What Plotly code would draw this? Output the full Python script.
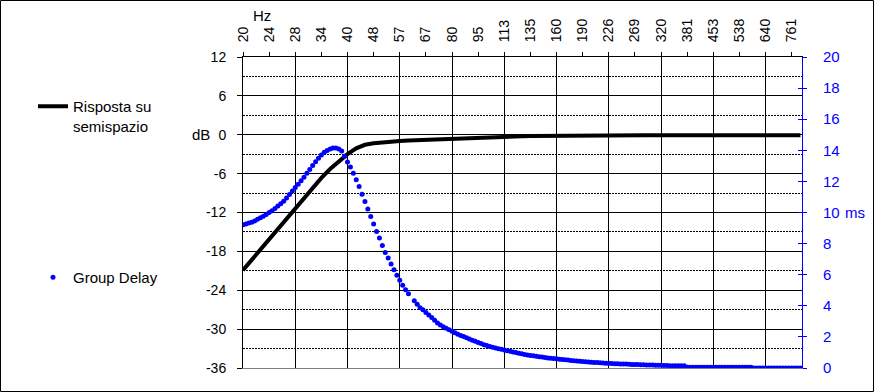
import math
import plotly.graph_objects as go

# ---- data ----
tick_labels = ["20", "24", "28", "34", "40", "48", "57", "67", "80", "95", "113",
               "135", "160", "190", "226", "269", "320", "381", "453", "538", "640", "761"]
grid_labels = ["20", "28", "40", "57", "80", "113", "160", "226", "320", "453", "640"]
db_ticks = [-36, -30, -24, -18, -12, -6, 0, 6, 12]
db_tick_labels = ["-36", "-30", "-24", "-18", "-12", "-6", "0", "6", "12"]

# Group delay (ms), one value every 1/36 octave from 20 Hz (None = missing point)
group_delay_ms = [
    9.22, 9.26, 9.32, 9.38, 9.46, 9.56, 9.66, 9.76, 9.87, 10.00,
    10.12, 10.26, 10.41, 10.57, 10.73, 10.93, 11.15, 11.38, 11.60, 11.82,
    12.04, 12.27, 12.52, 12.77, 13.02, 13.27, 13.49, 13.70, 13.87, 13.99,
    14.08, 14.14, 14.15, 14.09, 13.95, 13.62, 13.24, 12.92, 12.53, 12.10,
    11.67, 11.18, 10.71, 10.22, 9.75, 9.26, 8.78, 8.36, 7.88, 7.43,
    7.08, 6.69, 6.32, 5.96, 5.64, 5.32, 5.04, 4.78, None, 4.32,
    4.10, 3.88, 3.74, 3.57, 3.41, 3.24, 3.07, 2.90, 2.77, 2.65,
    2.55, 2.46, 2.36, 2.26, 2.17, 2.09, 2.02, 1.95, 1.87, 1.79,
    1.72, 1.64, 1.57, 1.50, 1.44, 1.39, 1.34, 1.29, 1.24, 1.20,
    1.16, 1.11, 1.07, 1.03, 0.99, 0.95, 0.91, 0.87, 0.84, 0.81,
    0.78, 0.75, 0.72, 0.70, 0.67, 0.65, 0.63, 0.61, 0.59, 0.57,
    0.55, 0.53, 0.51, 0.49, 0.47, 0.45, 0.43, 0.41, 0.40, 0.38,
    0.37, 0.36, 0.35, 0.33, 0.32, 0.31, 0.30, 0.29, 0.28, 0.27,
    0.26, 0.26, 0.25, 0.24, 0.23, 0.23, 0.22, 0.21, 0.21, 0.20,
    0.20, 0.19, 0.18, 0.18, 0.17, 0.16, 0.16, 0.15, 0.15, 0.15,
    0.15, 0.15, 0.15, 0.05, 0.05, 0.05, 0.05, 0.05, 0.05, 0.05,
    0.05, 0.05, 0.05, 0.05, 0.05, 0.05, 0.05, 0.05, 0.05, 0.05,
    0.05, 0.05, 0.05, 0.05, 0.05, 0.05, 0.00, 0.00, 0.00, 0.00,
    0.00, 0.00, 0.00, 0.00, 0.00, 0.00, 0.00, 0.00, 0.00, 0.00,
    0.00, 0.00, 0.00,
]

# Response (dB), one value every 1/12 octave from 20 Hz
response_db = [
    -20.9, -19.3, -17.7, -16.1, -14.5, -12.9, -11.3, -9.7, -8.1, -6.65,
    -5.3, -4.1, -3.0, -2.1, -1.55, -1.32, -1.15, -1.05, -0.96, -0.90,
    -0.84, -0.76, -0.69, -0.64, -0.60, -0.56, -0.52, -0.47, -0.42, -0.36,
    -0.30, -0.26, -0.23, -0.20, -0.18, -0.17, -0.16, -0.15, -0.14, -0.13,
    -0.12, -0.11, -0.10, -0.10, -0.09, -0.09, -0.08, -0.08, -0.08, -0.08,
    -0.08, -0.08, -0.08, -0.08, -0.08, -0.08, -0.08, -0.08, -0.08, -0.08,
    -0.08, -0.08, -0.08, -0.08, -0.08,
]

f0 = 20.0
gd_freq = [f0 * 2 ** (i / 36) for i in range(len(group_delay_ms))]
resp_freq = [f0 * 2 ** (j / 12) for j in range(len(response_db))]
tick_freq = [f0 * 2 ** (k / 4) for k in range(len(tick_labels))]
grid_freq = [tick_freq[tick_labels.index(g)] for g in grid_labels]

FONT = "Arial, Liberation Sans, sans-serif"
BLUE = "#0000FF"

W, H = 874, 392
ML, MR, MT, MB = 243, 72, 57, 24
PW, PH = W - ML - MR, H - MT - MB

xr = [math.log10(20), math.log10(814.8)]

fig = go.Figure()

fig.add_trace(go.Scatter(
    x=resp_freq, y=response_db, mode="lines", name="Risposta su<br>semispazio",
    line=dict(color="black", width=4), xaxis="x", yaxis="y", legend="legend",
))
fig.add_trace(go.Scatter(
    x=gd_freq, y=group_delay_ms, mode="markers", name="Group Delay",
    marker=dict(color=BLUE, size=5, line=dict(width=0)), xaxis="x", yaxis="y2",
    legend="legend2",
))
# helper empty traces so overlay axes render
fig.add_trace(go.Scatter(x=[], y=[], xaxis="x2", yaxis="y", showlegend=False))
fig.add_trace(go.Scatter(x=[], y=[], xaxis="x", yaxis="y3", showlegend=False))

fig.update_layout(
    width=W, height=H,
    margin=dict(l=ML, r=MR, t=MT, b=MB, pad=0, autoexpand=False),
    paper_bgcolor="white", plot_bgcolor="white",
    font=dict(family=FONT, size=14, color="black"),
    xaxis=dict(
        type="log", range=xr, side="top", anchor="y",
        tickmode="array", tickvals=tick_freq, ticktext=tick_labels,
        tickangle=-90, ticks="outside", ticklen=4, tickcolor="black", tickwidth=1,
        showline=True, linecolor="black", linewidth=1, showgrid=False,
        zeroline=False, tickfont=dict(size=14, color="black"),
        ticklabelstandoff=7, automargin=False,
    ),
    xaxis2=dict(
        type="log", range=xr, side="bottom", anchor="y", overlaying="x",
        tickmode="array", tickvals=grid_freq, showticklabels=False, ticks="",
        showgrid=True, gridcolor="black", gridwidth=1,
        showline=True, linecolor="#808080", linewidth=1, zeroline=False,
        automargin=False,
    ),
    yaxis=dict(
        range=[-36, 12], tickmode="array", tickvals=db_ticks, ticktext=db_tick_labels,
        ticks="outside", ticklen=5, tickcolor="black",
        showline=True, linecolor="black", linewidth=1,
        showgrid=True, gridcolor="black", gridwidth=1, zeroline=False,
        minor=dict(tickmode="linear", tick0=0, dtick=3, showgrid=True,
                   gridcolor="black", gridwidth=1, griddash="2px,1px", ticks=""),
        tickfont=dict(size=14, color="black"), ticklabelstandoff=8,
        automargin=False,
    ),
    yaxis2=dict(
        range=[0, 20], overlaying="y", side="right", anchor="x",
        tickmode="linear", tick0=0, dtick=2, ticks="outside", ticklen=4,
        tickcolor=BLUE, showline=True, linecolor=BLUE, linewidth=1,
        showgrid=False, zeroline=False,
        tickfont=dict(size=15, color=BLUE), ticklabelstandoff=13,
        automargin=False,
    ),
    yaxis3=dict(
        range=[0, 20], overlaying="y", side="right", anchor="x",
        tickmode="linear", tick0=0, dtick=2, ticks="inside", ticklen=4,
        tickcolor=BLUE, showticklabels=False, showline=False,
        showgrid=False, zeroline=False, automargin=False,
    ),
    legend=dict(
        x=(33 - ML) / PW, y=(H - MB - 90) / PH, xanchor="left", yanchor="top",
        bgcolor="rgba(0,0,0,0)", borderwidth=0, valign="top",
        font=dict(size=15, color="black"), itemwidth=30,
    ),
    legend2=dict(
        x=(33 - ML) / PW, y=(H - MB - 261) / PH, xanchor="left", yanchor="top",
        bgcolor="rgba(0,0,0,0)", borderwidth=0,
        font=dict(size=15, color="black"), itemwidth=30,
    ),
    showlegend=True,
)

fig.add_annotation(text="dB", xref="paper", yref="y", x=(212 - ML) / PW, y=0,
                   xanchor="right", yanchor="middle", showarrow=False,
                   font=dict(size=15, color="black"))
fig.add_annotation(text="ms", xref="paper", yref="y2", x=(843 - ML) / PW, y=10,
                   xanchor="left", yanchor="middle", showarrow=False,
                   font=dict(size=15, color=BLUE))
fig.add_annotation(text="Hz", xref="paper", yref="paper", x=(251 - ML) / PW,
                   y=(H - MB - 15) / PH, xanchor="left", yanchor="middle",
                   showarrow=False, font=dict(size=15, color="black"))

# outer frame
fig.add_shape(type="rect", xref="paper", yref="paper",
              x0=(0.5 - ML) / PW, x1=(873.5 - ML) / PW,
              y0=(H - MB - 391.5) / PH, y1=(H - MB - 0.5) / PH,
              line=dict(color="black", width=1), fillcolor="rgba(0,0,0,0)",
              layer="above")

fig.write_html(
    "out.html",
    config={"displayModeBar": False},
    post_script="document.body.style.margin='0';document.body.style.padding='0';"
                "document.body.style.overflow='hidden';",
)
